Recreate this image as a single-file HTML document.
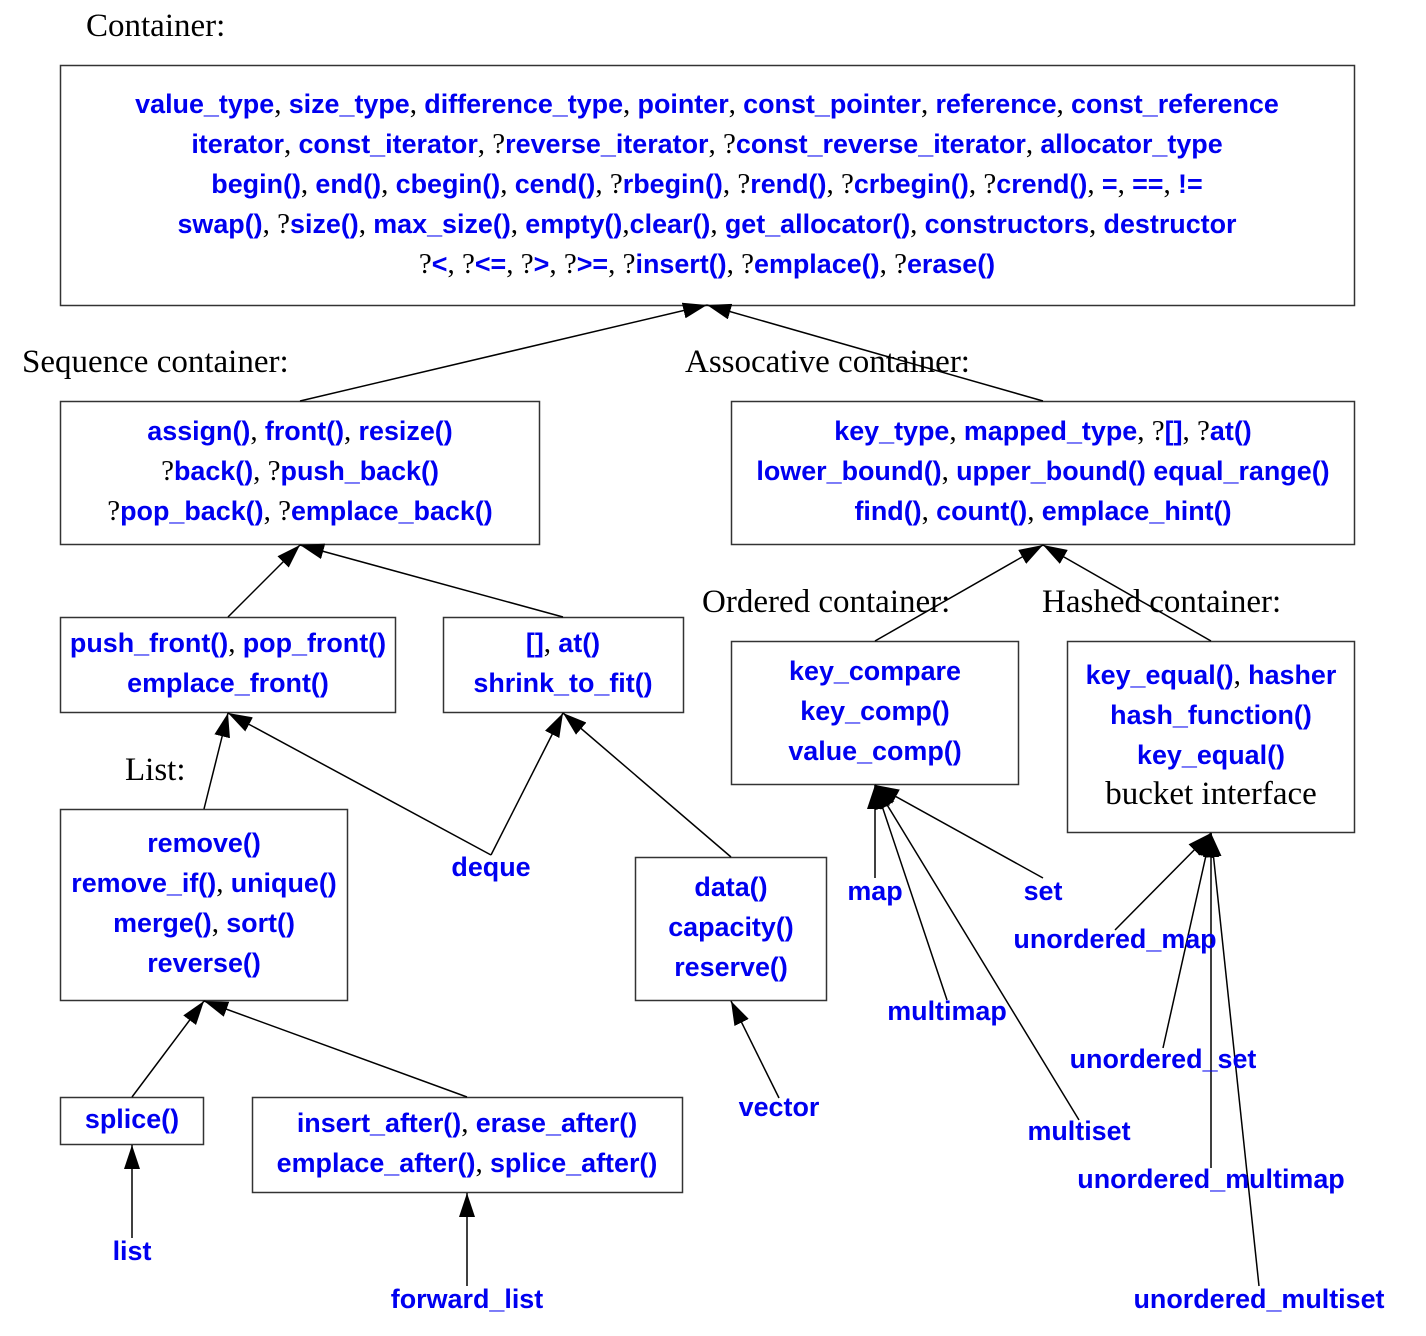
<!DOCTYPE html>
<html><head><meta charset="utf-8"><style>
html,body{margin:0;padding:0;background:#fff;}
svg{display:block;}
.b{fill:#0000f0;font-family:"Liberation Sans",sans-serif;font-weight:bold;font-size:26.9px;}
.k{fill:#000;font-family:"Liberation Serif",serif;font-weight:normal;font-size:29px;}
.t{fill:#000;font-family:"Liberation Serif",serif;font-size:33px;}
rect{fill:#fff;stroke:#333;stroke-width:1.5;}
line{stroke:#000;stroke-width:1.5;}
</style></head><body>
<svg width="1426" height="1336" viewBox="0 0 1426 1336" xmlns="http://www.w3.org/2000/svg">
<defs>
<marker id="a" markerUnits="userSpaceOnUse" markerWidth="26" markerHeight="16" refX="24" refY="8" orient="auto">
<path d="M0,0 L24,8 L0,16 z" fill="#000"/>
</marker>
</defs>
<rect x="60.5" y="65.5" width="1294" height="240"/>
<rect x="60.5" y="401.5" width="479" height="143"/>
<rect x="731.5" y="401.5" width="623" height="143"/>
<rect x="60.5" y="617.5" width="335" height="95"/>
<rect x="443.5" y="617.5" width="240" height="95"/>
<rect x="731.5" y="641.5" width="287" height="143"/>
<rect x="1067.5" y="641.5" width="287" height="191"/>
<rect x="60.5" y="809.5" width="287" height="191"/>
<rect x="635.5" y="857.5" width="191" height="143"/>
<rect x="60.5" y="1097.5" width="143" height="47"/>
<rect x="252.5" y="1097.5" width="430" height="95"/>

<g marker-end="url(#a)">
<line x1="300" y1="401" x2="707" y2="305"/>
<line x1="1043" y1="401" x2="707" y2="305"/>
<line x1="228" y1="617" x2="300" y2="545"/>
<line x1="563" y1="617" x2="300" y2="545"/>
<line x1="875" y1="641" x2="1043" y2="545"/>
<line x1="1211" y1="641" x2="1043" y2="545"/>
<line x1="204" y1="809" x2="228" y2="713"/>
<line x1="491" y1="855" x2="228" y2="713"/>
<line x1="491" y1="855" x2="563" y2="713"/>
<line x1="731" y1="857" x2="563" y2="713"/>
<line x1="779" y1="1098" x2="731" y2="1001"/>
<line x1="132" y1="1097" x2="204" y2="1001"/>
<line x1="467" y1="1097" x2="204" y2="1001"/>
<line x1="132" y1="1238" x2="132" y2="1145"/>
<line x1="467" y1="1286" x2="467" y2="1193"/>
<line x1="875" y1="878" x2="875" y2="785"/>
<line x1="1043" y1="878" x2="875" y2="785"/>
<line x1="947" y1="1000" x2="875" y2="785"/>
<line x1="1079" y1="1120" x2="875" y2="785"/>
<line x1="1115" y1="930" x2="1211" y2="833"/>
<line x1="1163" y1="1048" x2="1211" y2="833"/>
<line x1="1211" y1="1168" x2="1211" y2="833"/>
<line x1="1259" y1="1286" x2="1211" y2="833"/>
</g>

<text class="t" x="86" y="36">Container:</text>
<text class="t" x="22" y="372">Sequence container:</text>
<text class="t" x="685" y="372">Assocative container:</text>
<text class="t" x="702" y="612">Ordered container:</text>
<text class="t" x="1042" y="612">Hashed container:</text>
<text class="t" x="125" y="780">List:</text>

<g text-anchor="middle">
<text x="707" y="113"><tspan class="b">value_type</tspan><tspan class="k">, </tspan><tspan class="b">size_type</tspan><tspan class="k">, </tspan><tspan class="b">difference_type</tspan><tspan class="k">, </tspan><tspan class="b">pointer</tspan><tspan class="k">, </tspan><tspan class="b">const_pointer</tspan><tspan class="k">, </tspan><tspan class="b">reference</tspan><tspan class="k">, </tspan><tspan class="b">const_reference</tspan></text>
<text x="707" y="153"><tspan class="b">iterator</tspan><tspan class="k">, </tspan><tspan class="b">const_iterator</tspan><tspan class="k">, ?</tspan><tspan class="b">reverse_iterator</tspan><tspan class="k">, ?</tspan><tspan class="b">const_reverse_iterator</tspan><tspan class="k">, </tspan><tspan class="b">allocator_type</tspan></text>
<text x="707" y="193"><tspan class="b">begin()</tspan><tspan class="k">, </tspan><tspan class="b">end()</tspan><tspan class="k">, </tspan><tspan class="b">cbegin()</tspan><tspan class="k">, </tspan><tspan class="b">cend()</tspan><tspan class="k">, ?</tspan><tspan class="b">rbegin()</tspan><tspan class="k">, ?</tspan><tspan class="b">rend()</tspan><tspan class="k">, ?</tspan><tspan class="b">crbegin()</tspan><tspan class="k">, ?</tspan><tspan class="b">crend()</tspan><tspan class="k">, </tspan><tspan class="b">=</tspan><tspan class="k">, </tspan><tspan class="b">==</tspan><tspan class="k">, </tspan><tspan class="b">!=</tspan></text>
<text x="707" y="233"><tspan class="b">swap()</tspan><tspan class="k">, ?</tspan><tspan class="b">size()</tspan><tspan class="k">, </tspan><tspan class="b">max_size()</tspan><tspan class="k">, </tspan><tspan class="b">empty()</tspan><tspan class="k">,</tspan><tspan class="b">clear()</tspan><tspan class="k">, </tspan><tspan class="b">get_allocator()</tspan><tspan class="k">, </tspan><tspan class="b">constructors</tspan><tspan class="k">, </tspan><tspan class="b">destructor</tspan></text>
<text x="707" y="273"><tspan class="k">?</tspan><tspan class="b">&lt;</tspan><tspan class="k">, ?</tspan><tspan class="b">&lt;=</tspan><tspan class="k">, ?</tspan><tspan class="b">&gt;</tspan><tspan class="k">, ?</tspan><tspan class="b">&gt;=</tspan><tspan class="k">, ?</tspan><tspan class="b">insert()</tspan><tspan class="k">, ?</tspan><tspan class="b">emplace()</tspan><tspan class="k">, ?</tspan><tspan class="b">erase()</tspan></text>

<text x="300" y="440"><tspan class="b">assign()</tspan><tspan class="k">, </tspan><tspan class="b">front()</tspan><tspan class="k">, </tspan><tspan class="b">resize()</tspan></text>
<text x="300" y="480"><tspan class="k">?</tspan><tspan class="b">back()</tspan><tspan class="k">, ?</tspan><tspan class="b">push_back()</tspan></text>
<text x="300" y="520"><tspan class="k">?</tspan><tspan class="b">pop_back()</tspan><tspan class="k">, ?</tspan><tspan class="b">emplace_back()</tspan></text>

<text x="1043" y="440"><tspan class="b">key_type</tspan><tspan class="k">, </tspan><tspan class="b">mapped_type</tspan><tspan class="k">, ?</tspan><tspan class="b">[]</tspan><tspan class="k">, ?</tspan><tspan class="b">at()</tspan></text>
<text x="1043" y="480"><tspan class="b">lower_bound()</tspan><tspan class="k">, </tspan><tspan class="b">upper_bound() equal_range()</tspan></text>
<text x="1043" y="520"><tspan class="b">find()</tspan><tspan class="k">, </tspan><tspan class="b">count()</tspan><tspan class="k">, </tspan><tspan class="b">emplace_hint()</tspan></text>

<text x="228" y="652"><tspan class="b">push_front()</tspan><tspan class="k">, </tspan><tspan class="b">pop_front()</tspan></text>
<text x="228" y="692" class="b">emplace_front()</text>

<text x="563" y="652"><tspan class="b">[]</tspan><tspan class="k">, </tspan><tspan class="b">at()</tspan></text>
<text x="563" y="692" class="b">shrink_to_fit()</text>

<text x="875" y="680" class="b">key_compare</text>
<text x="875" y="720" class="b">key_comp()</text>
<text x="875" y="760" class="b">value_comp()</text>

<text x="1211" y="684"><tspan class="b">key_equal()</tspan><tspan class="k">, </tspan><tspan class="b">hasher</tspan></text>
<text x="1211" y="724" class="b">hash_function()</text>
<text x="1211" y="764" class="b">key_equal()</text>
<text x="1211" y="804" class="t">bucket interface</text>

<text x="204" y="852" class="b">remove()</text>
<text x="204" y="892"><tspan class="b">remove_if()</tspan><tspan class="k">, </tspan><tspan class="b">unique()</tspan></text>
<text x="204" y="932"><tspan class="b">merge()</tspan><tspan class="k">, </tspan><tspan class="b">sort()</tspan></text>
<text x="204" y="972" class="b">reverse()</text>

<text x="731" y="896" class="b">data()</text>
<text x="731" y="936" class="b">capacity()</text>
<text x="731" y="976" class="b">reserve()</text>

<text x="132" y="1128" class="b">splice()</text>
<text x="467" y="1132"><tspan class="b">insert_after()</tspan><tspan class="k">, </tspan><tspan class="b">erase_after()</tspan></text>
<text x="467" y="1172"><tspan class="b">emplace_after()</tspan><tspan class="k">, </tspan><tspan class="b">splice_after()</tspan></text>

<text x="491" y="876" class="b">deque</text>
<text x="779" y="1116" class="b">vector</text>
<text x="132" y="1260" class="b">list</text>
<text x="467" y="1308" class="b">forward_list</text>
<text x="875" y="900" class="b">map</text>
<text x="1043" y="900" class="b">set</text>
<text x="947" y="1020" class="b">multimap</text>
<text x="1079" y="1140" class="b">multiset</text>
<text x="1115" y="948" class="b">unordered_map</text>
<text x="1163" y="1068" class="b">unordered_set</text>
<text x="1211" y="1188" class="b">unordered_multimap</text>
<text x="1259" y="1308" class="b">unordered_multiset</text>
</g>
</svg>
</body></html>
